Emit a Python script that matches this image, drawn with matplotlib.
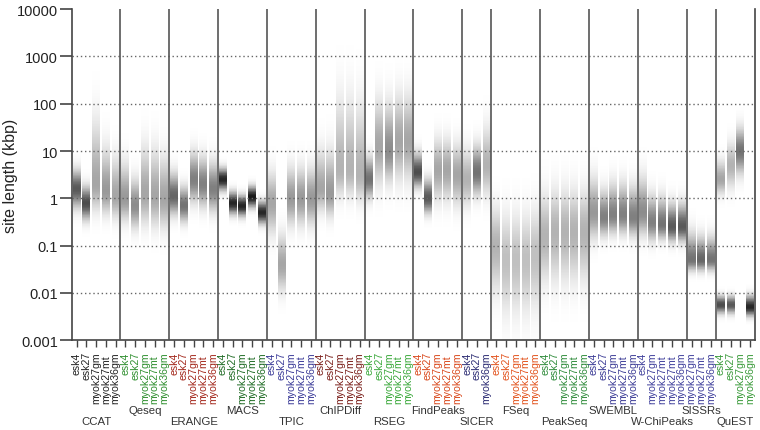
import numpy as np
import matplotlib
matplotlib.use("Agg")
import matplotlib.pyplot as plt
from matplotlib.colors import LinearSegmentedColormap

plt.rcParams['font.family'] = ['Liberation Sans', 'DejaVu Sans']

# ---- data ----
groups = ['CCAT', 'Qeseq', 'ERANGE', 'MACS', 'TPIC', 'ChIPDiff', 'RSEG', 'FindPeaks',
          'SICER', 'FSeq', 'PeakSeq', 'SWEMBL', 'W-ChiPeaks', 'SISSRs', 'QuEST']
std = ['esk4', 'esk27', 'myok27gm', 'myok27mt', 'myok36gm']
group_samples = [std, std, std, std, std, std, std, std,
                 ['esk4', 'esk27', 'myok36gm'], std, std, std,
                 ['esk4', 'myok27gm', 'myok27mt', 'myok27mt', 'myok36gm'],
                 ['myok27gm', 'myok27mt', 'myok36gm'],
                 ['esk4', 'esk27', 'myok27gm', 'myok36gm']]
group_colors = ['#222222', '#2f8f2f', '#a3281c', '#1f6b24', '#3b3b98', '#7a1f1a', '#3aa83a',
                '#d9481c', '#2b2b72', '#e2521c', '#2e8b3a', '#3c3c96', '#40409c', '#40409c',
                '#3a9a3a']

# log10 of the modal site length (kbp), spread below/above (decades), darkness 0..1
site_center = [0.2, -0.1, 0.3, 0.15, 0.05,
               0.0, -0.15, 0.1, 0.05, 0.0,
               0.05, -0.15, 0.4, 0.3, 0.2,
               0.4, -0.1, -0.16, 0.03, -0.3,
               -0.1, -1.4, 0.0, 0.0, 0.0,
               0.2, 0.1, 0.6, 0.6, 0.5,
               0.4, 1.1, 1.0, 1.2, 1.2,
               0.55, 0.0, 0.6, 0.6, 0.5,
               0.4, 0.55, 0.7,
               -1.0, -1.3, -1.3, -1.3, -1.2,
               -0.8, -0.7, -0.7, -0.7, -0.7,
               -0.3, -0.4, -0.35, -0.35, -0.4,
               -0.3, -0.5, -0.55, -0.6, -0.6,
               -1.3, -1.3, -1.3,
               0.4, 0.7, 1.0, -2.3]
spread_lo = [0.25, 0.22, 0.35, 0.3, 0.3,
             0.3, 0.3, 0.4, 0.4, 0.4,
             0.25, 0.22, 0.3, 0.3, 0.3,
             0.15, 0.15, 0.14, 0.14, 0.15,
             0.4, 0.35, 0.35, 0.35, 0.35,
             0.3, 0.3, 0.35, 0.35, 0.35,
             0.25, 0.5, 0.4, 0.5, 0.5,
             0.2, 0.2, 0.4, 0.4, 0.4,
             0.35, 0.3, 0.4,
             0.6, 0.7, 0.7, 0.7, 0.7,
             0.6, 0.65, 0.65, 0.65, 0.65,
             0.35, 0.25, 0.25, 0.25, 0.25,
             0.3, 0.25, 0.2, 0.2, 0.2,
             0.15, 0.15, 0.15,
             0.2, 0.3, 0.3, 0.12]
spread_hi = [0.25, 0.22, 0.8, 0.55, 0.5,
             0.45, 0.35, 0.6, 0.6, 0.55,
             0.3, 0.25, 0.35, 0.35, 0.35,
             0.15, 0.15, 0.14, 0.14, 0.15,
             0.4, 0.4, 0.4, 0.4, 0.4,
             0.5, 0.55, 0.9, 0.9, 0.9,
             0.3, 0.6, 0.6, 0.6, 0.6,
             0.25, 0.25, 0.4, 0.4, 0.4,
             0.4, 0.35, 0.5,
             0.5, 0.6, 0.6, 0.6, 0.6,
             0.55, 0.55, 0.55, 0.55, 0.55,
             0.45, 0.35, 0.4, 0.4, 0.4,
             0.45, 0.35, 0.35, 0.3, 0.3,
             0.35, 0.3, 0.3,
             0.25, 0.3, 0.3, 0.15]
darkness = [0.65, 0.7, 0.35, 0.4, 0.35,
            0.4, 0.45, 0.35, 0.35, 0.35,
            0.6, 0.55, 0.5, 0.5, 0.5,
            0.85, 0.85, 0.85, 0.9, 0.85,
            0.35, 0.35, 0.4, 0.4, 0.4,
            0.35, 0.4, 0.3, 0.3, 0.3,
            0.55, 0.35, 0.45, 0.35, 0.35,
            0.7, 0.65, 0.35, 0.35, 0.35,
            0.3, 0.55, 0.3,
            0.3, 0.25, 0.25, 0.25, 0.25,
            0.3, 0.3, 0.3, 0.3, 0.3,
            0.4, 0.5, 0.5, 0.5, 0.5,
            0.45, 0.5, 0.55, 0.65, 0.65,
            0.55, 0.6, 0.55,
            0.35, 0.3, 0.55, 0.85]

# second (short-site) mode for some QuEST runs
low_mode_cols = ['QuEST esk4', 'QuEST esk27']
low_mode_center = [-2.25, -2.25]
low_mode_spread = [0.12, 0.12]
low_mode_dark = [0.7, 0.65]

ytick_vals = [0.001, 0.01, 0.1, 1, 10, 100, 1000, 10000]
ytick_text = ['0.001', '0.01', '0.1', '1', '10', '100', '1000', '10000']

# ---- plot ----
col_names = [g + ' ' + s for g, ss in zip(groups, group_samples) for s in ss]
ncol = len(col_names)

fig = plt.figure(figsize=(7.6, 4.31), dpi=100)
ax = fig.add_axes([0.0943, 0.2083, 0.8991, 0.7683])

cmap = LinearSegmentedColormap.from_list('wk', ['#ffffff', '#000000'])
edges = np.linspace(-3, 4, 561)
mid = (edges[:-1] + edges[1:]) / 2

for i, name in enumerate(col_names):
    mu = site_center[i]
    sd = np.where(mid < mu, spread_lo[i], spread_hi[i])
    prof = darkness[i] * np.exp(-0.5 * ((mid - mu) / sd) ** 2)
    if name in low_mode_cols:
        k = low_mode_cols.index(name)
        prof = prof + low_mode_dark[k] * np.exp(-0.5 * ((mid - low_mode_center[k]) / low_mode_spread[k]) ** 2)
    ax.pcolormesh([i - 0.41, i + 0.41], 10 ** edges, np.clip(prof, 0, 1)[:, None],
                  cmap=cmap, vmin=0, vmax=1, shading='flat', zorder=1)

ax.set_yscale('log')
ax.set_ylim(0.001, 10000)
ax.set_xlim(-0.5, ncol - 0.5)

for v in ytick_vals[1:-1]:
    ax.axhline(v, color='#666666', lw=1.0, ls=(0, (1, 2)), zorder=2)

start = 0
bounds = []
for ss in group_samples:
    bounds.append((start, start + len(ss)))
    start += len(ss)
for a, b in bounds[:-1]:
    ax.axvline(b - 0.5, color='#555555', lw=1.2, zorder=3)

ax.spines['top'].set_visible(False)
for s in ['left', 'right', 'bottom']:
    ax.spines[s].set_color('#444444')
    ax.spines[s].set_linewidth(1.2)

ax.set_yticks(ytick_vals)
ax.set_yticklabels(ytick_text, fontsize=10.5, color='#222222')
ax.yaxis.set_minor_locator(matplotlib.ticker.NullLocator())
ax.tick_params(axis='y', length=8.5, width=1.2, color='#444444', pad=1.5)
ax.set_ylabel('site length (kbp)', fontsize=11.5, color='#222222')
ax.yaxis.set_label_coords(-0.079, 0.5)

ax.set_xticks(range(ncol))
ax.set_xticklabels([])
ax.tick_params(axis='x', length=5, width=1.0, color='#444444')

i = 0
for gi, (g, ss) in enumerate(zip(groups, group_samples)):
    for s in ss:
        if s.startswith('esk'):
            ax.annotate(s, xy=(i, 0), xycoords=('data', 'axes fraction'), xytext=(0, -11),
                        textcoords='offset pixels', rotation=90, ha='center', va='top',
                        fontsize=7.6, color=group_colors[gi])
        else:
            ax.annotate(s, xy=(i, 0), xycoords=('data', 'axes fraction'), xytext=(0, -63),
                        textcoords='offset pixels', rotation=90, ha='center', va='bottom',
                        fontsize=7.6, color=group_colors[gi])
        i += 1
    a, b = bounds[gi]
    off = -70 if gi % 2 == 1 else -81
    ax.annotate(g, xy=((a + b - 1) / 2, 0), xycoords=('data', 'axes fraction'), xytext=(0, off),
                textcoords='offset pixels', ha='center', va='center', fontsize=8.2, color='#333333')

fig.savefig('out.png', dpi=100)
